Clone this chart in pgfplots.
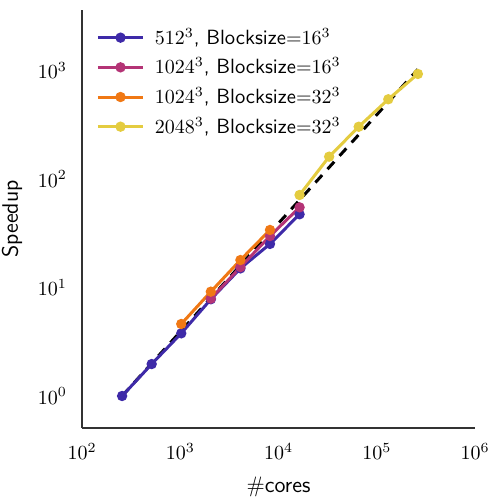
\documentclass[border=0pt]{standalone}
\usepackage{pgfplots}
\pgfplotsset{compat=1.18}
\definecolor{cindigo}{RGB}{62,42,168}
\definecolor{cmagenta}{RGB}{180,52,118}
\definecolor{corange}{RGB}{240,120,20}
\definecolor{cyellow}{RGB}{228,204,64}
\definecolor{spine}{RGB}{50,50,50}
\begin{document}
\begin{tikzpicture}
\useasboundingbox (-41pt,-36pt) rectangle (209pt,214pt);
\begin{axis}[
  at={(0,0)}, anchor=south west,
  scale only axis, width=196.5pt, height=209pt,
  xmode=log, ymode=log,
  xmin=100, xmax=1e6, ymin=0.507, ymax=3610,
  xtick={1e2,1e3,1e4,1e5,1e6},
  ytick={1,10,100,1000},
  axis x line*=bottom, axis y line*=left,
  axis line style={-, line width=1pt, spine},
  tick style={draw=none},
  minor tick style={draw=none},
  xticklabel style={yshift=-4pt},
  yticklabel style={xshift=-4pt},
  xlabel={\sffamily\fontsize{11.2}{13}\selectfont\#cores},
  ylabel={\sffamily\fontsize{11.2}{13}\selectfont Speedup},
  xlabel style={yshift=-2pt},
  ylabel style={yshift=1pt},
  legend style={draw=none, fill=none, at={(0.02,0.977)}, anchor=north west,
    font=\sffamily\fontsize{10.3}{12}\selectfont, row sep=1.2pt, cells={anchor=west}},
  legend image code/.code={\draw[mark repeat=2,mark phase=2] plot coordinates {(0cm,0cm) (0.4cm,0cm) (0.8cm,0cm)};},
  every axis plot/.append style={line width=1.5pt, mark=*, mark size=1.8pt},
]
\addplot[black, dashed, dash pattern=on 5pt off 4pt, mark=none, forget plot] coordinates {
  (256,1) (262144,1024)};
\addplot[cindigo, mark options={fill=cindigo}] coordinates {
  (256,1.0) (512,1.97) (1024,3.78) (2048,7.79) (4096,15.0) (8192,25.2) (16384,47.3)};
\addlegendentry{\hspace*{3pt}$512^3$, Blocksize${=}16^3$}
\addplot[cmagenta, mark options={fill=cmagenta}] coordinates {
  (2048,7.9) (4096,15.4) (8192,29.8) (16384,54.8)};
\addlegendentry{\hspace*{3pt}$1024^3$, Blocksize${=}16^3$}
\addplot[corange, mark options={fill=corange}] coordinates {
  (1024,4.61) (2048,9.15) (4096,17.9) (8192,33.9)};
\addlegendentry{\hspace*{3pt}$1024^3$, Blocksize${=}32^3$}
\addplot[cyellow, mark options={fill=cyellow}] coordinates {
  (16384,71.2) (32768,160.6) (65536,303) (131072,543) (262144,929)};
\addlegendentry{\hspace*{3pt}$2048^3$, Blocksize${=}32^3$}
\end{axis}
\end{tikzpicture}
\end{document}
